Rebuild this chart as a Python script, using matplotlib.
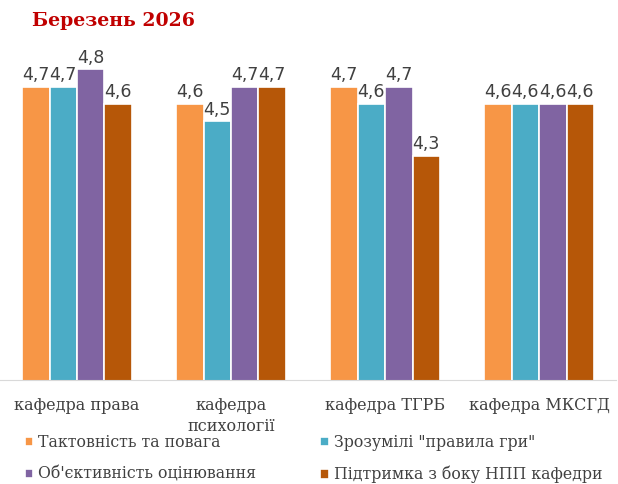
import matplotlib.pyplot as plt
import numpy as np

# data
categories = ["кафедра права", "кафедра\nпсихології", "кафедра ТГРБ", "кафедра МКСГД"]
series_names = ["Тактовність та повага", "Зрозумілі \"правила гри\"",
                "Об'єктивність оцінювання", "Підтримка з боку НПП кафедри"]
taktovnist = [4.7, 4.6, 4.7, 4.6]
zrozumili = [4.7, 4.5, 4.6, 4.6]
objektyvnist = [4.8, 4.7, 4.7, 4.6]
pidtrymka = [4.6, 4.7, 4.3, 4.6]
colors = ["#F79646", "#4BACC6", "#8064A2", "#B65708"]

values = [taktovnist, zrozumili, objektyvnist, pidtrymka]

fig = plt.figure(figsize=(6.18, 4.84), dpi=100)
ax = fig.add_axes([0.0, 0.215, 0.997, 0.713])

x = np.arange(len(categories))
step = 0.178
handles = []
for i in range(4):
    pos = x + (i - 1.5) * step
    bars = ax.bar(pos, values[i], width=step, bottom=0, color=colors[i],
                  edgecolor="white", linewidth=1.2, label=series_names[i])
    handles.append(bars)
    for p, v in zip(pos, values[i]):
        ax.text(p, v + 0.015, f"{v:.1f}".replace(".", ","), ha="center", va="bottom",
                fontsize=12.5, color="#404040", family="DejaVu Sans")

ax.set_ylim(3.0, 5.0)
ax.set_xlim(-0.5, 3.5)
ax.set_yticks([])
ax.set_xticks(x)
ax.set_xticklabels(categories, fontsize=11.5, family="DejaVu Serif", color="#404040",
                   linespacing=1.35)
ax.tick_params(axis="x", length=0, pad=12)
for s in ["top", "right", "left"]:
    ax.spines[s].set_visible(False)
ax.spines["bottom"].set_color("#D9D9D9")

# legend filled row by row like the original
order = [0, 2, 1, 3]
leg = fig.legend([handles[k] for k in order], [series_names[k] for k in order],
                 loc="lower left", bbox_to_anchor=(0.017, -0.028), ncol=2,
                 frameon=False, prop={"family": "DejaVu Serif", "size": 11.3},
                 handlelength=0.55, handleheight=0.55, handletextpad=0.3,
                 columnspacing=4.1, labelspacing=0.95)
for t in leg.get_texts():
    t.set_color("#404040")

fig.text(0.052, 0.957, "Березень 2026", fontsize=13.6, fontweight="bold",
         family="DejaVu Serif", color="#C00000", va="center")

fig.savefig("out.png", dpi=100)
